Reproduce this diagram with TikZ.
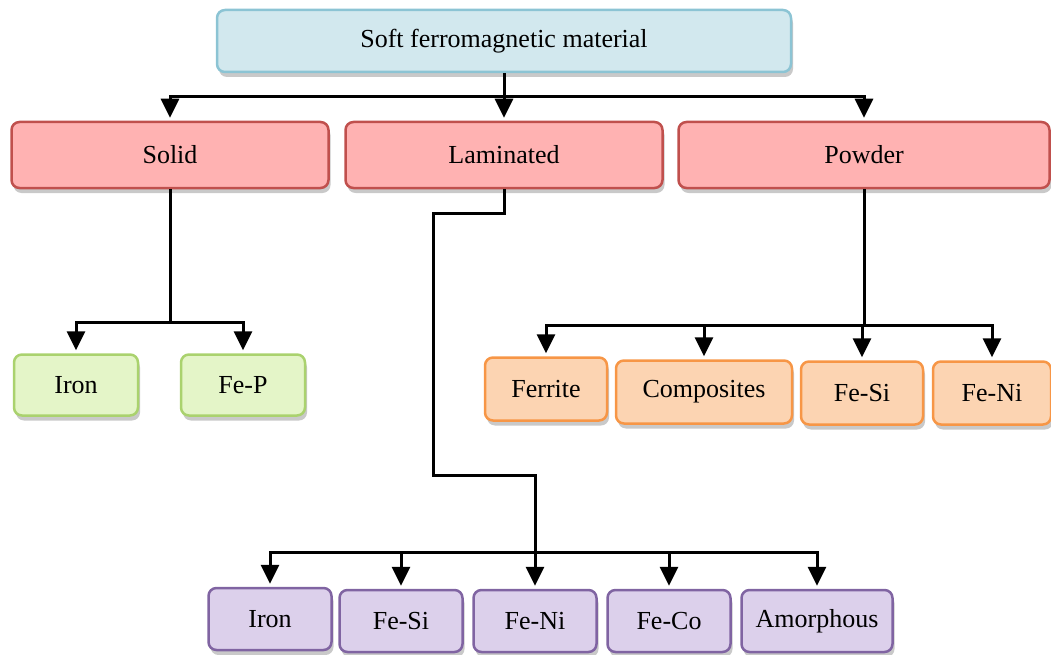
\documentclass[tikz,border=0pt]{standalone}
\usepackage{fontspec}
\setmainfont{Liberation Serif}
\usetikzlibrary{arrows.meta,shadows}

\definecolor{topfill}{RGB}{210,232,238}\definecolor{topline}{RGB}{140,196,212}
\definecolor{midfill}{RGB}{255,178,178}\definecolor{midline}{RGB}{192,80,77}
\definecolor{grnfill}{RGB}{228,245,200}\definecolor{grnline}{RGB}{170,210,110}
\definecolor{orgfill}{RGB}{252,212,178}\definecolor{orgline}{RGB}{247,150,70}
\definecolor{purfill}{RGB}{220,208,235}\definecolor{purline}{RGB}{128,100,162}

\tikzset{
  box/.style={draw,line width=2.5pt,rounded corners=8pt,inner sep=0pt,
    drop shadow={shadow xshift=2pt,shadow yshift=-5pt,fill=black!30,opacity=.7}},
  topbox/.style={box,fill=topfill,draw=topline},
  midbox/.style={box,fill=midfill,draw=midline,minimum height=66pt},
  grnbox/.style={box,fill=grnfill,draw=grnline,minimum height=61pt,minimum width=124pt},
  orgbox/.style={box,fill=orgfill,draw=orgline,minimum height=63pt},
  purbox/.style={box,fill=purfill,draw=purline,minimum height=62pt},
  link/.style={line width=3pt},
  arr/.style={link,-{Triangle[width=18pt,length=19pt]},shorten >=3pt}
}

\begin{document}
\begin{tikzpicture}[x=1pt,y=-1pt,font=\fontsize{26}{30}\selectfont]
\useasboundingbox (0,0) rectangle (1051,655);
% first two levels
\node[topbox,minimum width=574pt,minimum height=62pt] (top) at (504,41) {Soft ferromagnetic material};
\node[midbox,minimum width=317pt] (solid) at (170,155) {Solid};
\node[midbox,minimum width=317pt] (lam) at (504,155) {Laminated};
\node[midbox,minimum width=371pt] (powder) at (864,155) {Powder};
\coordinate (bus0) at (504,97);
\draw[arr] (top) -- (lam);
\draw[arr] (bus0) -| (solid);
\draw[arr] (bus0) -| (powder);
% solid branch
\node[grnbox] (ironA) at (76,385) {Iron};
\node[grnbox] (fep) at (243,385) {Fe-P};
\coordinate (bus1) at (170,322);
\draw[link] (solid) -- (bus1);
\foreach \n in {ironA,fep} \draw[arr] (bus1) -| (\n);
% powder branch
\node[orgbox,minimum width=122pt] (ferrite) at (546,389) {Ferrite};
\node[orgbox,minimum width=176pt] (compo) at (704,392) {Composites};
\node[orgbox,minimum width=122pt] (fesiA) at (862,393) {Fe-Si};
\node[orgbox,minimum width=118pt] (feniA) at (992,393) {Fe-Ni};
\coordinate (bus2) at (864,325);
\draw[link] (powder) -- (bus2);
\foreach \n in {ferrite,compo,fesiA,feniA} \draw[arr] (bus2) -| (\n);
% laminated branch
\node[purbox,minimum width=123pt] (ironB) at (270,619) {Iron};
\node[purbox,minimum width=123pt] (fesiB) at (401,621) {Fe-Si};
\node[purbox,minimum width=123pt] (feniB) at (535,621) {Fe-Ni};
\node[purbox,minimum width=123pt] (feco) at (669,621) {Fe-Co};
\node[purbox,minimum width=151pt] (amor) at (817,621) {Amorphous};
\coordinate (kneeA) at (433,213);
\coordinate (kneeB) at (535,475);
\coordinate (bus3) at (535,552);
\draw[arr] (lam) |- (kneeA) |- (kneeB) -- (feniB);
\foreach \n in {ironB,fesiB,feco,amor} \draw[arr] (bus3) -| (\n);
\end{tikzpicture}
\end{document}
